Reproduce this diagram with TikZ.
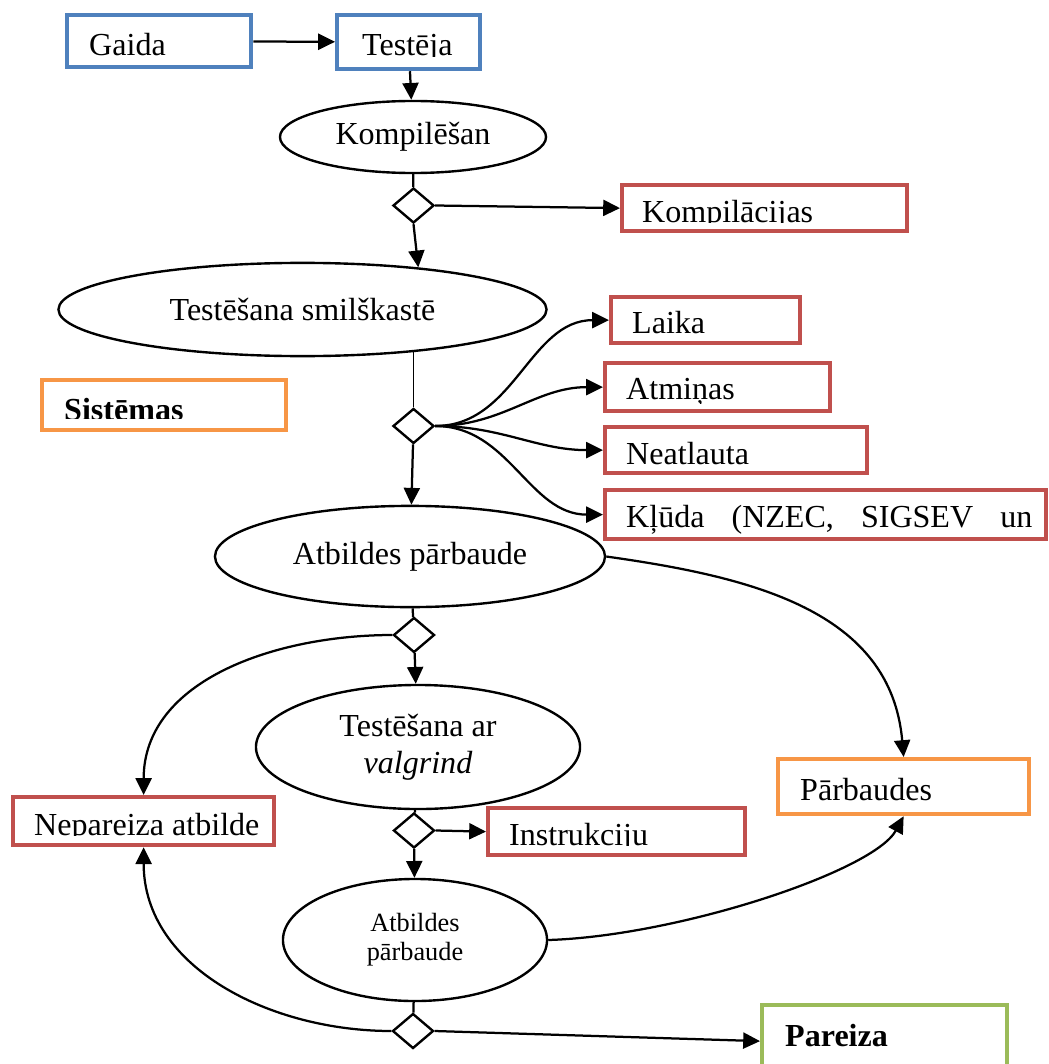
\documentclass[tikz,border=0pt]{standalone}
\usepackage{fontspec}
\setmainfont{Liberation Serif}
\usepackage{xcolor}
\usetikzlibrary{shapes.geometric,arrows.meta,positioning}

\definecolor{boxblue}{HTML}{4F81BD}
\definecolor{boxred}{HTML}{C0504D}
\definecolor{boxorange}{HTML}{F79646}
\definecolor{boxgreen}{HTML}{9BBB59}

\begin{document}
\begin{tikzpicture}[x=0.025cm, y=-0.025cm,
    every node/.style={font=\fontsize{22.8}{26.3}\selectfont},
    >={Triangle[length=0.42cm, width=0.4cm]},
    box/.style={rectangle, draw, line width=3pt, inner sep=0pt, anchor=north west},
    boxtext/.style n args={4}{path picture={
        \clip (path picture bounding box.north west) rectangle ([shift={(0,#4)}]path picture bounding box.north east);
        \node[anchor=base west, inner sep=0pt, minimum width=0pt, minimum height=0pt, draw=none]
            at ([shift={(#1,#2)}]path picture bounding box.north west) {#3};}},
    oval/.style={ellipse, draw, line width=1.7pt, inner sep=0pt, align=center},
    choice/.style={diamond, draw, line width=1.7pt, inner sep=0pt, minimum width=1.025cm, minimum height=0.875cm},
    link/.style={line width=1.6pt}
]
\useasboundingbox (0,0) rectangle (1049,1064);

% Boxes
\node[box, draw=boxblue, minimum width=4.6cm, minimum height=1.3cm, boxtext={20}{40}{Gaida}{60}] (gaida) at (65,13) {};
\node[box, draw=boxblue, minimum width=3.575cm, minimum height=1.35cm, boxtext={23}{40}{Testēja}{41}] (testeja) at (335,13) {};
\node[box, draw=boxred, minimum width=7.125cm, minimum height=1.15cm, boxtext={18}{37}{Kompilācijas}{37.5}] (kompil) at (620,183) {};
\node[box, draw=boxred, minimum width=4.725cm, minimum height=1.15cm, boxtext={19}{36}{Laika}{60}] (laika) at (609,295) {};
\node[box, draw=boxred, minimum width=5.625cm, minimum height=1.2cm, boxtext={19}{36}{Atmiņas}{40}] (atmin) at (603,361) {};
\node[box, draw=boxred, minimum width=6.55cm, minimum height=1.15cm, boxtext={19}{37}{Neatļauta}{37.5}] (neatl) at (603,425) {};
\node[box, draw=boxred, minimum width=11.025cm, minimum height=1.225cm, boxtext={19}{37}{\makebox[10.15cm][s]{Kļūda (NZEC, SIGSEV un}}{60}] (kluda) at (603,488) {};
\node[box, draw=boxorange, minimum width=6.1cm, minimum height=1.25cm, boxtext={20}{40}{\textbf{Sistēmas}}{38}] (sist) at (40,378) {};
\node[box, draw=boxred, minimum width=6.525cm, minimum height=1.2cm, boxtext={19}{38}{Nepareiza atbilde}{38.5}] (nepar) at (11,795) {};
\node[box, draw=boxred, minimum width=6.425cm, minimum height=1.175cm, boxtext={19}{37}{Instrukciju}{37.5}] (instr) at (486,806) {};
\node[box, draw=boxorange, minimum width=6.275cm, minimum height=1.375cm, boxtext={20}{41}{Pārbaudes}{60}] (parb) at (776,757) {};
\node[box, draw=boxgreen, minimum width=6.125cm, minimum height=1.8cm, boxtext={21}{41}{\textbf{Pareiza}}{80}] (pareiza) at (760,1003) {};

% Steps
\node[oval, minimum width=6.65cm, minimum height=1.8cm] (komp) at (413,137) {Kompilēšan};
\node[oval, minimum width=12.2cm, minimum height=2.33cm] (smil) at (302.5,309.5) {Testēšana smilškastē};
\node[oval, minimum width=9.75cm, minimum height=2.53cm] (atb) at (410,556.5) {Atbildes pārbaude};
\node[oval, minimum width=8.1cm, minimum height=3.1cm] (valg) at (418,747) {Testēšana ar\\\textit{valgrind}};
\node[oval, minimum width=6.6cm, minimum height=3.05cm, font=\fontsize{18.7}{20.6}\selectfont] (atb2) at (415,940) {Atbildes\\pārbaude};

% Decisions
\node[choice] (d1) at (413.5,205.5) {};
\node[choice] (d2) at (413.5,426) {};
\node[choice] (d3) at (414,635) {};
\node[choice] (d4) at (414,830.5) {};
\node[choice] (d5) at (413,1031) {};

% Arrows
\draw[link, ->] (gaida) -- (testeja);
\draw[link, ->] (testeja) -- (komp);
\draw[link] (komp) -- (d1);
\draw[link, ->] (d1.east) -- (kompil.west);
\draw[link, ->] (d1.south) -- (smil.20);
\draw[line width=0.8pt] (d2.north) -- (d2.north |- smil.-20);
\draw[link, ->] (d2.east) to[out=0, in=180] (laika.west);
\draw[link, ->] (d2.east) to[out=0, in=180] (atmin.west);
\draw[link, ->] (d2.east) to[out=0, in=180] (neatl.west);
\draw[link, ->] (d2.east) to[out=0, in=180] (kluda.west);
\draw[link, ->] (d2) -- (atb);
\draw[link, ->] (atb.east) to[out=-8, in=95, looseness=1.05] (parb.north);
\draw[link] (atb) -- (d3);
\draw[link, ->] (d3.west) to[out=180, in=90] (nepar.north);
\draw[link, ->] (d3) -- (valg);
\draw[link] (valg) -- (d4);
\draw[link, ->] (d4.east) -- (instr.west);
\draw[link, ->] (d4) -- (atb2);
\draw[link, ->] (atb2.east) .. controls +(130,-4) and +(-30,55) .. (parb.south);
\draw[link] (atb2) -- (d5);
\draw[link, ->] (d5.west) to[out=180, in=-90] (nepar.south);
\draw[link, ->] (d5.east) -- (pareiza.west);

\end{tikzpicture}
\end{document}
